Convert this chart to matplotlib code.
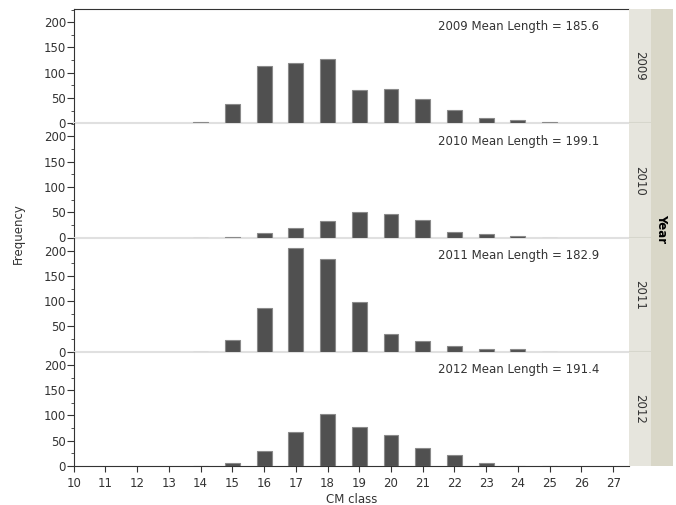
import numpy as np
import matplotlib
matplotlib.use('Agg')
import matplotlib.pyplot as plt
from matplotlib.ticker import MultipleLocator

plt.rcParams['font.family'] = ['DejaVu Sans']

# Data
cm_class = [14, 15, 16, 17, 18, 19, 20, 21, 22, 23, 24, 25]
years = ['2009', '2010', '2011', '2012']
mean_length = [185.6, 199.1, 182.9, 191.4]
freq_2009 = [2, 38, 113, 120, 128, 66, 68, 47, 27, 10, 6, 1.5]
freq_2010 = [0, 1, 8, 18, 33, 51, 47, 35, 10, 7, 3, 0]
freq_2011 = [0, 23, 86, 205, 184, 99, 36, 22, 11, 5, 5, 0]
freq_2012 = [0, 6, 30, 67, 103, 78, 61, 36, 22, 6, 0, 0]
freqs = [freq_2009, freq_2010, freq_2011, freq_2012]
x_ticks = list(range(10, 28))

W, H = 676, 505
fig = plt.figure(figsize=(W / 100, H / 100), dpi=100)

left, right = 73.7, 629.0
top, bottom = 9.0, 466.0
ph = (bottom - top) / 4
txt = '#333333'
fs = 8.5

for i, (yr, f, m) in enumerate(zip(years, freqs, mean_length)):
    y0 = top + i * ph
    ax = fig.add_axes([left / W, 1 - (y0 + ph) / H, (right - left) / W, ph / H])
    ax.bar(cm_class, f, width=0.47, color='#505050', edgecolor='#8a8a8a', linewidth=0.8, zorder=3)
    ax.set_xlim(10, 27.5)
    ax.set_ylim(0, 226)
    ax.yaxis.set_major_locator(MultipleLocator(50))
    ax.yaxis.set_minor_locator(MultipleLocator(25))
    ax.set_xticks(x_ticks)
    ax.tick_params(axis='y', which='major', length=5, labelsize=fs, labelcolor=txt, color='#333333', pad=0.5)
    ax.tick_params(axis='y', which='minor', length=2.5, color='#333333')
    ax.text(0.946, 0.843, f'{yr} Mean Length = {m}', transform=ax.transAxes,
            ha='right', va='center', fontsize=fs, color='#333333')
    ax.spines['right'].set_visible(False)
    ax.spines['left'].set_color('#333333')
    ax.spines['top'].set_visible(i == 0)
    ax.spines['top'].set_color('#333333')
    if i < 3:
        ax.spines['bottom'].set_color('#e0e0e0')
        ax.spines['bottom'].set_linewidth(1.5)
        ax.tick_params(axis='x', bottom=False, labelbottom=False)
    else:
        ax.spines['bottom'].set_color('#333333')
        ax.tick_params(axis='x', length=4, labelsize=fs, labelcolor=txt, color='#333333', pad=4)
        ax.set_xlabel('CM class', fontsize=fs, color=txt, labelpad=2)
    ax.patch.set_alpha(0)

    # year strip
    sx = fig.add_axes([right / W, 1 - (y0 + ph) / H, 21.7 / W, ph / H])
    sx.set_facecolor('#e6e5dd')
    sx.set_xticks([])
    sx.set_yticks([])
    for s in sx.spines.values():
        s.set_visible(False)
    if i < 3:
        sx.axhline(0, color='#d6d6cc', lw=1.5)
    sx.text(0.5, 0.5, yr, rotation=-90, ha='center', va='center', fontsize=fs, color='#333333',
            transform=sx.transAxes)

# outer 'Year' strip
yx = fig.add_axes([650.7 / W, 1 - bottom / H, 22.6 / W, (bottom - top) / H])
yx.set_facecolor('#d9d7c8')
yx.set_xticks([])
yx.set_yticks([])
for s in yx.spines.values():
    s.set_visible(False)
yx.text(0.5, 0.52, 'Year', rotation=-90, ha='center', va='center', fontsize=fs,
        fontweight='bold', color='black', transform=yx.transAxes)

fig.text(18 / W, 1 - 234 / H, 'Frequency', rotation=90, ha='center', va='center',
         fontsize=fs, color=txt)

fig.savefig('out.png', dpi=100)
